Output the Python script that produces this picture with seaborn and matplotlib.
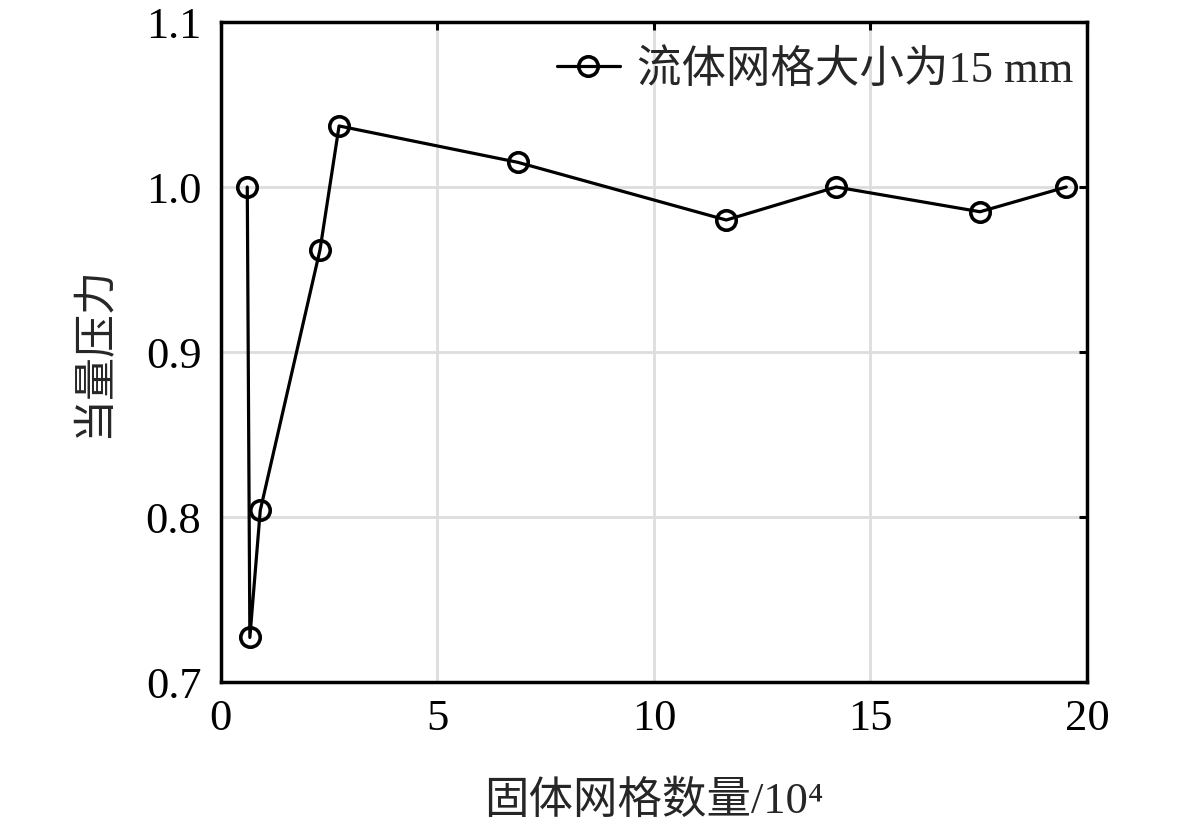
import pandas as pd
import seaborn as sns
import matplotlib
matplotlib.use("Agg")
import matplotlib.pyplot as plt

# values
grid_count = [0.61, 0.67, 0.91, 2.29, 2.73, 6.85, 11.67, 14.21, 17.53, 19.52]
pressure = [1.000, 0.727, 0.804, 0.962, 1.037, 1.015, 0.980, 1.000, 0.985, 1.000]
series_name = "流体网格大小为15 mm"
x_ticks = [0, 5, 10, 15, 20]
y_ticks = [0.7, 0.8, 0.9, 1.0, 1.1]

df = pd.DataFrame({"x": grid_count, "y": pressure, "name": series_name})

sns.set_style("white")
plt.rcParams["font.family"] = ["Liberation Serif", "Noto Sans CJK SC", "DejaVu Sans"]

fig = plt.figure(figsize=(11.81, 8.24), dpi=100)
ax = fig.add_axes([0.187, 0.1723, 0.7334, 0.801])

sns.lineplot(data=df, x="x", y="y", hue="name", palette=["black"], sort=False,
             marker="o", markersize=14, markerfacecolor="none",
             markeredgecolor="black", markeredgewidth=2.6, linewidth=2.3, ax=ax)

ax.set_xlim(0, 20)
ax.set_ylim(0.7, 1.1)
ax.set_xticks(x_ticks)
ax.set_yticks(y_ticks)
ax.set_xticklabels([str(t) for t in x_ticks])
ax.set_yticklabels([f"{t:.1f}" for t in y_ticks])
ax.grid(True, color="#dddddd", linewidth=2.0)
ax.set_axisbelow(True)

for s in ax.spines.values():
    s.set_visible(True)
    s.set_color("black")
    s.set_linewidth(2.5)

ax.tick_params(axis="both", which="major", direction="in", length=6, width=2.2,
               top=True, right=True, labelsize=32, colors="black")
ax.tick_params(axis="x", pad=12)
ax.tick_params(axis="y", pad=14)

ax.set_xlabel("固体网格数量/10⁴", fontsize=32, labelpad=30)
ax.set_ylabel("当量压力", fontsize=31, labelpad=22)

leg = ax.legend(loc="upper right", bbox_to_anchor=(1.0, 0.979), frameon=False,
                fontsize=32, handlelength=1.4, handletextpad=0.4,
                borderpad=0.2, borderaxespad=0.1)

fig.savefig("out.png", dpi=100)
